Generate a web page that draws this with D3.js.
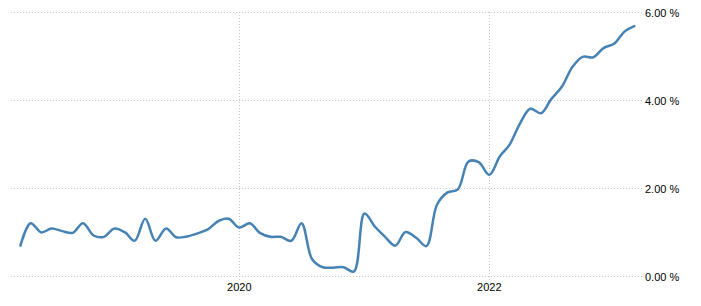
<!DOCTYPE html>
<html>
<head>
<meta charset="utf-8">
<script src="https://cdn.jsdelivr.net/npm/d3@7"></script>
<style>
  html, body { margin: 0; padding: 0; background: #fff; }
  svg { display: block; }
  .lbl { font-family: "Liberation Sans", Arial, sans-serif; font-size: 11px; fill: #000; }
</style>
</head>
<body>
<svg id="chart" width="701" height="306"></svg>
<script>
// monthly values, Apr 2018 .. Mar 2023 (percent)
var startMonth = new Date(2018, 3, 1);
var values = [
  0.69, 1.20, 0.99, 1.08, 1.02, 0.98, 1.20, 0.92, 0.89, 1.08,
  0.99, 0.80, 1.30, 0.80, 1.08, 0.88, 0.90, 0.97, 1.06, 1.25,
  1.30, 1.10, 1.20, 0.98, 0.89, 0.89, 0.80, 1.20, 0.38, 0.20,
  0.19, 0.20, 0.10, 1.42, 1.12, 0.90, 0.69, 1.00, 0.87, 0.68,
  1.62, 1.90, 1.97, 2.60, 2.59, 2.30, 2.72, 2.98, 3.47, 3.80,
  3.70, 4.02, 4.30, 4.75, 4.98, 4.97, 5.18, 5.28, 5.56, 5.68
];
var yTicks = [0, 2, 4, 6];
var xTicks = [new Date(2020, 0, 1), new Date(2022, 0, 1)];
var xTickLabels = ["2020", "2022"];

var data = values.map(function (v, i) {
  return { date: d3.timeMonth.offset(startMonth, i), value: v };
});

var svg = d3.select("#chart");

var x = d3.scaleTime()
  .domain([new Date(2020, 0, 1), new Date(2022, 0, 1)])
  .range([239.3, 489.3]);

var y = d3.scaleLinear()
  .domain([0, 6])
  .range([276, 12]);

var gridLeft = 11, gridRight = 643;

/* horizontal grid + right labels */
var gy = svg.append("g");
gy.selectAll("line").data(yTicks).enter().append("line")
  .attr("x1", gridLeft).attr("x2", gridRight)
  .attr("y1", function (d) { return y(d) + 0.5; })
  .attr("y2", function (d) { return y(d) + 0.5; })
  .attr("stroke", "#c8c8c8").attr("stroke-dasharray", "1,2");
gy.selectAll("text").data(yTicks).enter().append("text")
  .attr("class", "lbl")
  .attr("x", 645)
  .attr("y", function (d) { return y(d) + 1; })
  .attr("dy", "0.35em")
  .text(function (d) { return d3.format(".2f")(d) + " %"; });

/* vertical grid + year labels */
var gx = svg.append("g");
gx.selectAll("line").data(xTicks).enter().append("line")
  .attr("x1", function (d) { return Math.round(x(d)) + 0.5; })
  .attr("x2", function (d) { return Math.round(x(d)) + 0.5; })
  .attr("y1", 12).attr("y2", 280)
  .attr("stroke", "#c8c8c8").attr("stroke-dasharray", "1,2");
gx.selectAll("text").data(xTicks).enter().append("text")
  .attr("class", "lbl")
  .attr("x", function (d) { return x(d); })
  .attr("y", 287)
  .attr("dy", "0.35em")
  .attr("text-anchor", "middle")
  .text(function (d, i) { return xTickLabels[i]; });

/* series line */
var line = d3.line()
  .x(function (d) { return x(d.date); })
  .y(function (d) { return y(d.value); })
  .curve(d3.curveCatmullRom.alpha(0.5));

svg.append("path")
  .datum(data)
  .attr("d", line)
  .attr("fill", "none")
  .attr("stroke", "#4682b4")
  .attr("stroke-width", 2.5)
  .attr("stroke-linejoin", "round")
  .attr("stroke-linecap", "round");
</script>
</body>
</html>
